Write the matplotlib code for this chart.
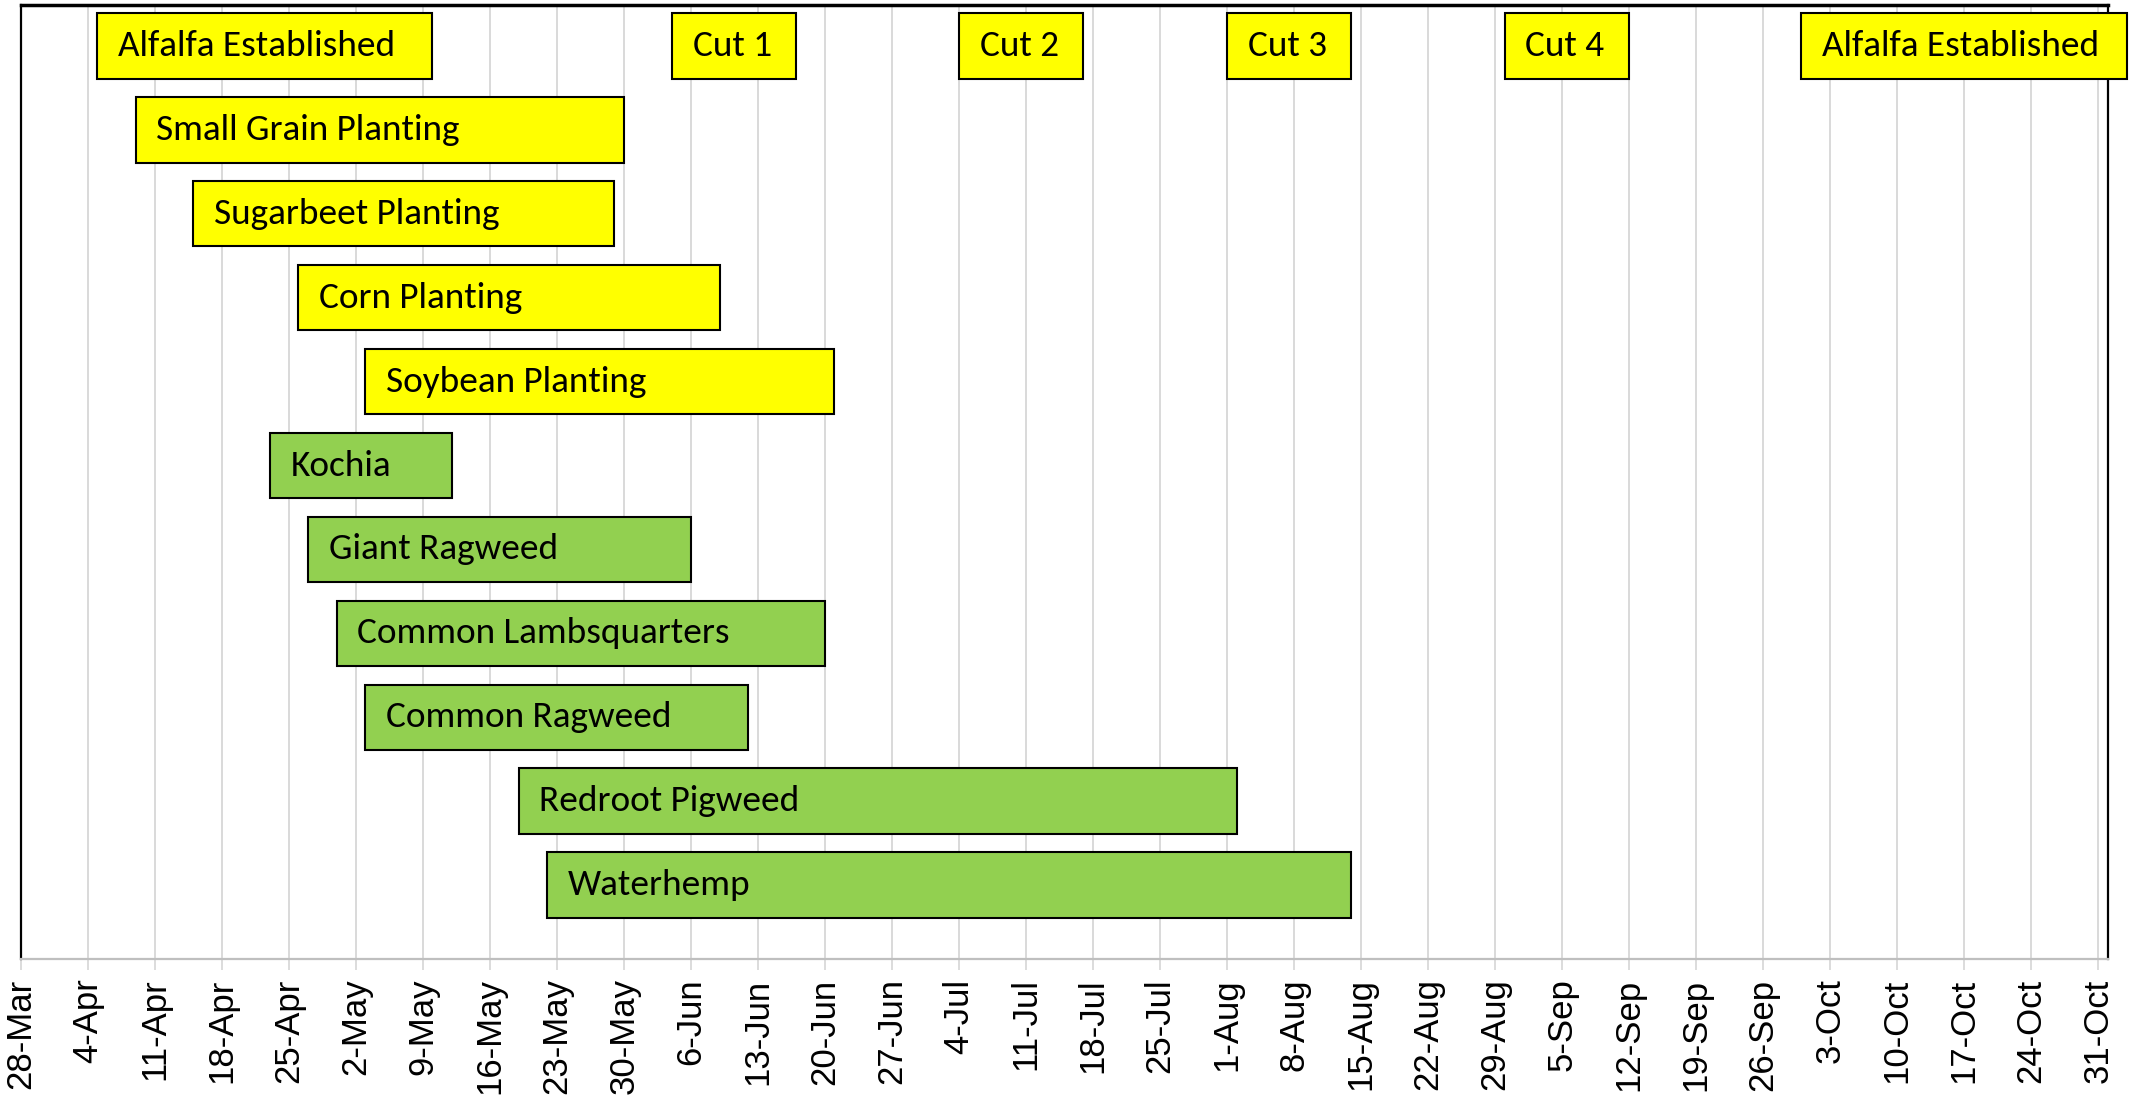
import datetime as dt
import matplotlib
matplotlib.use("Agg")
import matplotlib.pyplot as plt
import matplotlib.dates as mdates
from matplotlib import font_manager

YEAR = 2021

# ---- data ----
labels = ["Alfalfa Established", "Small Grain Planting", "Sugarbeet Planting",
          "Corn Planting", "Soybean Planting", "Kochia", "Giant Ragweed",
          "Common Lambsquarters", "Common Ragweed", "Redroot Pigweed", "Waterhemp"]
starts = ["5-Apr", "9-Apr", "15-Apr", "26-Apr", "3-May", "23-Apr", "27-Apr",
          "30-Apr", "3-May", "19-May", "22-May"]
ends = ["10-May", "30-May", "29-May", "9-Jun", "21-Jun", "12-May", "6-Jun",
        "20-Jun", "12-Jun", "2-Aug", "14-Aug"]
kinds = ["crop", "crop", "crop", "crop", "crop", "weed", "weed", "weed",
         "weed", "weed", "weed"]

# alfalfa cutting events on the top row
top_labels = ["Cut 1", "Cut 2", "Cut 3", "Cut 4", "Alfalfa Established"]
top_starts = ["4-Jun", "4-Jul", "1-Aug", "30-Aug", "30-Sep"]
top_ends = ["17-Jun", "17-Jul", "14-Aug", "12-Sep", "3-Nov"]

axis_start = "28-Mar"
axis_end = "1-Nov"
tick_every_days = 7

colors = {"crop": "#FFFF00", "weed": "#92D050"}


def d(s):
    return mdates.date2num(dt.datetime.strptime(f"{s}-{YEAR}", "%d-%b-%Y"))


def have(fam):
    try:
        font_manager.findfont(font_manager.FontProperties(family=fam),
                              fallback_to_default=False)
        return True
    except Exception:
        return False


label_font = next((f for f in ["Carlito", "Lato"] if have(f)), "DejaVu Sans")
label_size = {"Carlito": 26.8, "Lato": 25.3}.get(label_font, 22)
tick_font = next((f for f in ["Liberation Sans", "Arimo"] if have(f)), "DejaVu Sans")

W, H = 2134, 1105
fig = plt.figure(figsize=(W / 100, H / 100), dpi=100)
ax_left, ax_right, ax_top, ax_bottom = 20.7, 2107.7, 5, 959
ax = fig.add_axes([ax_left / W, 1 - ax_bottom / H, (ax_right - ax_left) / W,
                   (ax_bottom - ax_top) / H])

bar_h = 0.778


def draw(row, lab, s, e, color, clip=True):
    x0, x1 = d(s), d(e)
    ax.barh(row, x1 - x0, left=x0, height=bar_h, color=color,
            edgecolor="black", linewidth=1.5, zorder=3, clip_on=clip)
    ax.annotate(lab, (x0, row), xytext=(15, 0), textcoords="offset points",
                ha="left", va="center", fontsize=label_size,
                family=label_font, zorder=4, annotation_clip=False)


for i, (lab, s, e, k) in enumerate(zip(labels, starts, ends, kinds)):
    draw(i, lab, s, e, colors[k])

for lab, s, e in zip(top_labels, top_starts, top_ends):
    draw(0, lab, s, e, colors["crop"], clip=False)

ax.set_ylim(10.882, -0.489)
ax.set_xlim(d(axis_start), d(axis_end))
ax.set_yticks([])

ticks = [d(axis_start) + tick_every_days * n for n in range(32)]
ax.set_xticks(ticks)
ax.xaxis.set_major_formatter(mdates.DateFormatter("%-d-%b"))
ax.tick_params(axis="x", rotation=90, labelsize=25, length=8, width=1.3,
               color="#d9d9d9", pad=6)
for t in ax.get_xticklabels():
    t.set_family(tick_font)
ax.grid(axis="x", color="#d9d9d9", linewidth=1.4, zorder=0)
ax.set_axisbelow(True)

for side in ["left", "right"]:
    ax.spines[side].set_color("black")
    ax.spines[side].set_linewidth(1.6)
ax.spines["top"].set_color("black")
ax.spines["top"].set_linewidth(2.5)
ax.spines["bottom"].set_color("#bfbfbf")
ax.spines["bottom"].set_linewidth(1.6)

fig.savefig("out.png", dpi=100)
